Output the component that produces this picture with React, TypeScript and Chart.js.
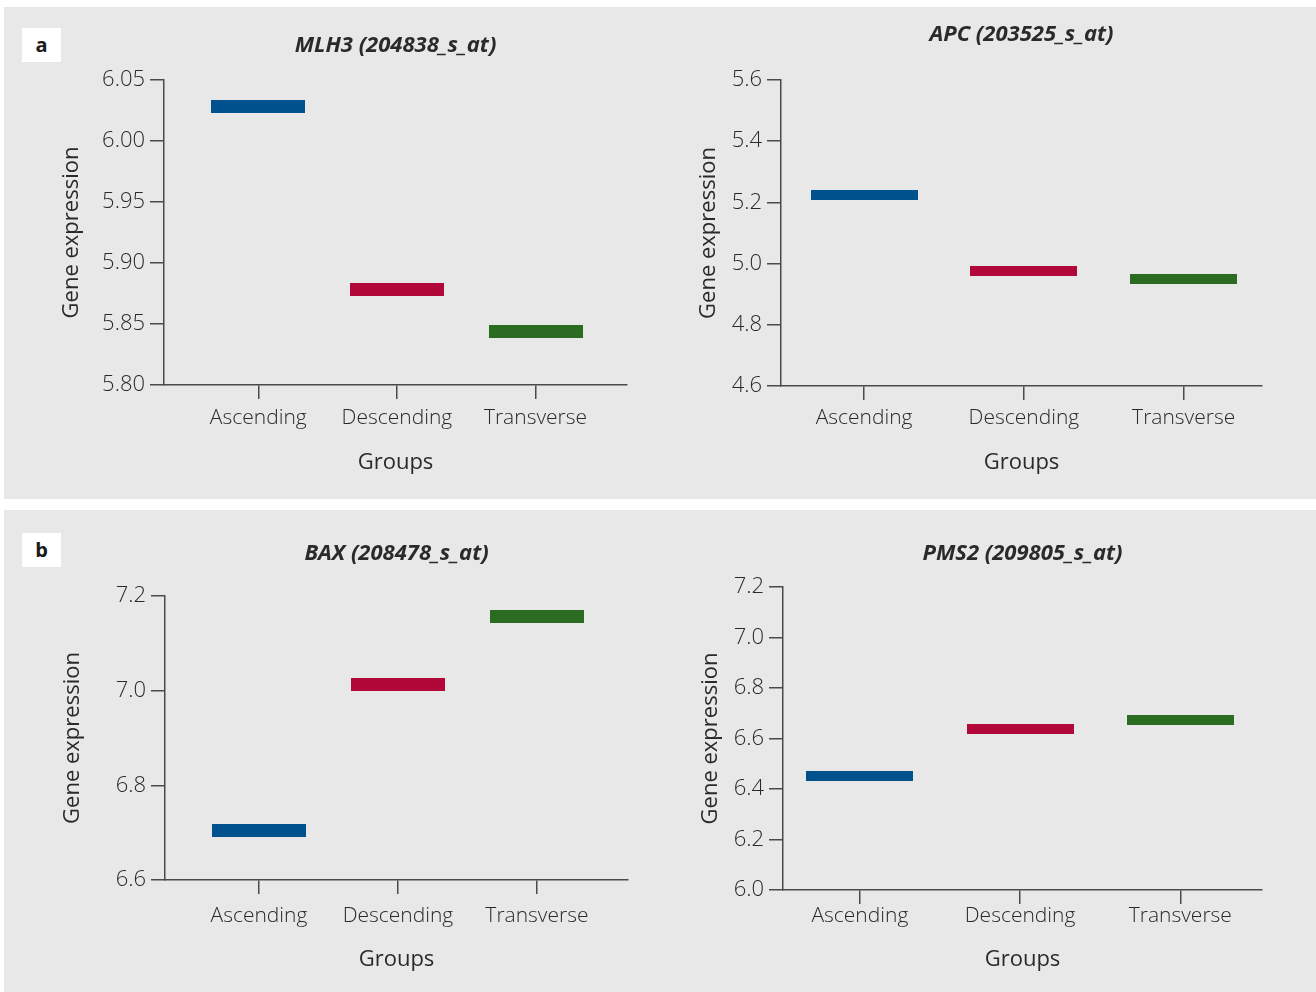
import React, { useEffect, useRef } from 'react';
import { Chart, registerables } from 'chart.js';

Chart.register(...registerables);

// ---------- data ----------
const groups = ['Ascending', 'Descending', 'Transverse'];

const mlh3Values = [6.028, 5.878, 5.844];
const apcValues = [5.224, 4.976, 4.95];
const baxValues = [6.705, 7.013, 7.157];
const pms2Values = [6.452, 6.638, 6.673];

const mlh3Ticks = [5.8, 5.85, 5.9, 5.95, 6.0, 6.05];
const apcTicks = [4.6, 4.8, 5.0, 5.2, 5.4, 5.6];
const baxTicks = [6.6, 6.8, 7.0, 7.2];
const pms2Ticks = [6.0, 6.2, 6.4, 6.6, 6.8, 7.0, 7.2];

const barColors = ['#00528f', '#b10839', '#2b6c22'];

const FONT = '"Open Sans", "Noto Sans", sans-serif';
const AXIS_COLOR = '#4a4a4a';
const TEXT_COLOR = '#2a2a2a';
const PANEL_BG = '#e8e8e8';

type Spec = {
  title: string;
  values: number[];
  ticks: number[];
  decimals: number;
  left: number;
  top: number;
  w: number;
  h: number;
  yW: number;
  xH: number;
  topH: number;
  padRight: number;
  titlePadTop: number;
  xLabelPad: number;
  xTitlePadBottom: number;
  yTitlePadTop: number;
  xMin: number;
  xMax: number;
  barW: number;
  barH: number;
};

const specs: Spec[] = [
  {
    title: 'MLH3 (204838_s_at)', values: mlh3Values, ticks: mlh3Ticks, decimals: 2,
    left: 4, top: 7, w: 652, h: 492, yW: 160, xH: 114, topH: 73, padRight: 29,
    titlePadTop: 25.8, xLabelPad: 6, xTitlePadBottom: 22.8, yTitlePadTop: 54.8,
    xMin: -0.68, xMax: 2.66, barW: 94, barH: 13,
  },
  {
    title: 'APC (203525_s_at)', values: apcValues, ticks: apcTicks, decimals: 1,
    left: 656, top: 7, w: 660, h: 492, yW: 125, xH: 113, topH: 73, padRight: 54,
    titlePadTop: 14.8, xLabelPad: 5, xTitlePadBottom: 22.8, yTitlePadTop: 39.8,
    xMin: -0.52, xMax: 2.49, barW: 107, barH: 10,
  },
  {
    title: 'BAX (208478_s_at)', values: baxValues, ticks: baxTicks, decimals: 1,
    left: 4, top: 510, w: 652, h: 482, yW: 161, xH: 112, topH: 86, padRight: 28,
    titlePadTop: 30.8, xLabelPad: 9, xTitlePadBottom: 18.8, yTitlePadTop: 55.8,
    xMin: -0.676, xMax: 2.655, barW: 94, barH: 13,
  },
  {
    title: 'PMS2 (209805_s_at)', values: pms2Values, ticks: pms2Ticks, decimals: 1,
    left: 656, top: 510, w: 660, h: 482, yW: 127, xH: 102, topH: 77, padRight: 54,
    titlePadTop: 30.8, xLabelPad: -1, xTitlePadBottom: 18.8, yTitlePadTop: 41.8,
    xMin: -0.48, xMax: 2.51, barW: 107, barH: 10,
  },
];

function makeBar(color: string, w: number, h: number): HTMLCanvasElement {
  const c = document.createElement('canvas');
  c.width = w;
  c.height = h;
  const ctx = c.getContext('2d');
  if (ctx) {
    ctx.fillStyle = color;
    ctx.fillRect(0, 0, w, h);
  }
  return c;
}

function GeneChart({ spec }: { spec: Spec }) {
  const ref = useRef<HTMLCanvasElement>(null);
  useEffect(() => {
    if (!ref.current) return;
    const styles = spec.values.map((_, i) => makeBar(barColors[i], spec.barW, spec.barH));
    const chart = new Chart(ref.current, {
      type: 'scatter',
      data: {
        datasets: [
          {
            data: spec.values.map((v, i) => ({ x: i, y: v })),
            pointStyle: styles as any,
            pointRadius: 5,
            pointHoverRadius: 5,
            showLine: false,
          },
        ],
      },
      options: {
        responsive: false,
        animation: false,
        events: [],
        layout: { padding: { left: 0, right: spec.padRight, top: 0, bottom: 0 } },
        plugins: {
          legend: { display: false },
          tooltip: { enabled: false },
          title: { display: false },
        },
        scales: {
          xTop: {
            type: 'linear',
            position: 'top',
            min: spec.xMin,
            max: spec.xMax,
            afterBuildTicks: (s: any) => {
              s.ticks = [];
            },
            afterFit: (s: any) => {
              s.height = spec.topH;
            },
            ticks: { display: false },
            grid: { display: false },
            border: { display: false },
            title: {
              display: true,
              text: spec.title,
              color: TEXT_COLOR,
              font: { family: FONT, size: 22, weight: 'bold', style: 'italic' },
              padding: { top: spec.titlePadTop, bottom: 0 },
            },
          },
          x: {
            type: 'linear',
            position: 'bottom',
            min: spec.xMin,
            max: spec.xMax,
            afterBuildTicks: (s: any) => {
              s.ticks = groups.map((_, i) => ({ value: i }));
            },
            afterFit: (s: any) => {
              s.height = spec.xH;
            },
            ticks: {
              callback: (_v: any, i: number) => groups[i],
              color: TEXT_COLOR,
              font: { family: FONT, size: 21, weight: '300' },
              padding: spec.xLabelPad,
              maxRotation: 0,
              autoSkip: false,
            },
            grid: {
              drawOnChartArea: false,
              drawTicks: true,
              tickLength: 14,
              color: AXIS_COLOR,
              lineWidth: 1.5,
            },
            border: { display: true, color: AXIS_COLOR, width: 1.5 },
            title: {
              display: true,
              text: 'Groups',
              color: TEXT_COLOR,
              font: { family: FONT, size: 22 },
              padding: { top: 0, bottom: spec.xTitlePadBottom },
            },
          },
          y: {
            type: 'linear',
            min: spec.ticks[0],
            max: spec.ticks[spec.ticks.length - 1],
            afterBuildTicks: (s: any) => {
              s.ticks = spec.ticks.map((v) => ({ value: v }));
            },
            afterFit: (s: any) => {
              s.width = spec.yW;
            },
            ticks: {
              callback: (v: any) => Number(v).toFixed(spec.decimals),
              color: TEXT_COLOR,
              font: { family: FONT, size: 22, weight: '300' },
              padding: 5,
            },
            grid: {
              drawOnChartArea: false,
              drawTicks: true,
              tickLength: 14,
              color: AXIS_COLOR,
              lineWidth: 1.5,
            },
            border: { display: true, color: AXIS_COLOR, width: 1.5 },
            title: {
              display: true,
              text: 'Gene expression',
              color: TEXT_COLOR,
              font: { family: FONT, size: 22 },
              padding: { top: spec.yTitlePadTop, bottom: 0 },
            },
          },
        },
      } as any,
    });
    return () => chart.destroy();
  }, [spec]);
  return (
    <canvas
      ref={ref}
      width={spec.w}
      height={spec.h}
      style={{ position: 'absolute', left: spec.left, top: spec.top, width: spec.w, height: spec.h }}
    />
  );
}

function PanelLabel({ text, top }: { text: string; top: number }) {
  return (
    <div
      style={{
        position: 'absolute',
        left: 22,
        top,
        width: 39,
        height: 34,
        background: '#ffffff',
        display: 'flex',
        alignItems: 'center',
        justifyContent: 'center',
        fontFamily: FONT,
        fontWeight: 700,
        fontSize: 20,
        color: '#1a1a1a',
        lineHeight: 1,
      }}
    >
      {text}
    </div>
  );
}

export default function App() {
  return (
    <div
      style={{
        position: 'absolute',
        left: 0,
        top: 0,
        width: 1316,
        height: 992,
        background: '#ffffff',
        overflow: 'hidden',
      }}
    >
      <div style={{ position: 'absolute', left: 4, top: 7, width: 1312, height: 492, background: PANEL_BG }} />
      <div style={{ position: 'absolute', left: 4, top: 510, width: 1312, height: 482, background: PANEL_BG }} />
      <PanelLabel text="a" top={28} />
      <PanelLabel text="b" top={533} />
      {specs.map((s) => (
        <GeneChart key={s.title} spec={s} />
      ))}
    </div>
  );
}
